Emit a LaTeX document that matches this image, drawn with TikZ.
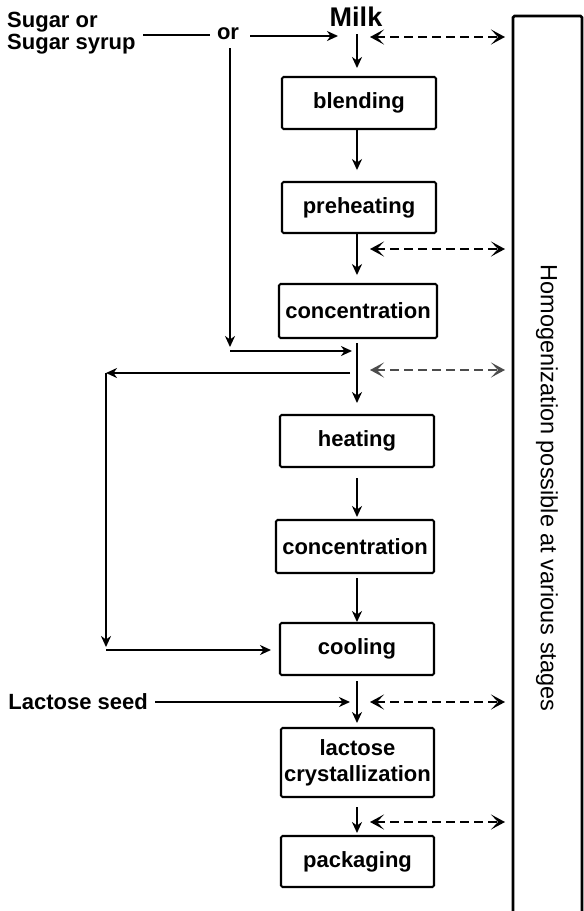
\documentclass[tikz,border=0pt]{standalone}
\usepackage{fontspec}
\setmainfont{Liberation Sans}
\usetikzlibrary{arrows.meta}
\begin{document}
\begin{tikzpicture}[x=1pt,y=-1pt,
  proc/.style={draw, line width=2.1pt, rounded corners=1.5pt, minimum width=154pt, minimum height=52pt, inner sep=0pt, font=\fontsize{22}{26}\selectfont\bfseries, align=center},
  flow/.style={line width=2.5pt, -{Stealth[length=11pt,width=10pt,inset=3.5pt]}},
  plain/.style={line width=2.5pt},
  homog/.style={line width=2.4pt, dash pattern=on 9pt off 5pt, {Stealth[length=14pt,width=15pt,inset=7pt]}-{Stealth[length=14pt,width=15pt,inset=7pt]}},
  lbl/.style={font=\fontsize{22}{22}\selectfont\bfseries, inner sep=0pt}]
\useasboundingbox (0,0) rectangle (584,911);

% side box
\draw[line width=2.6pt, rounded corners=1.5pt] (513,16) rectangle (582,940);
\node[font=\fontsize{23.5}{24}\selectfont, rotate=-90, inner sep=0pt] (homtext) at (547,488) {Homogenization possible at various stages};

% process boxes
\node[proc] (blend) at (359,103) {blending};
\node[proc, minimum height=51pt] (preh) at (359,207.5) {preheating};
\node[proc, minimum width=158pt, minimum height=54pt] (conc1) at (358,311) {concentration};
\node[proc] (heat) at (357,441) {heating};
\node[proc, minimum width=158pt, minimum height=53pt] (conc2) at (355,546.5) {concentration};
\node[proc] (cool) at (357,649) {cooling};
\node[proc, minimum width=153pt, minimum height=69pt] (lact) at (357.5,762.5) {lactose\\crystallization};
\node[proc, minimum width=153pt, minimum height=51pt] (pack) at (357.5,861.5) {packaging};

% inputs
\node[font=\fontsize{27}{28}\selectfont\bfseries, inner sep=0pt] (milk) at (356,17) {Milk};
\node[lbl, align=left, anchor=west] (sugar) at (7,33) {Sugar or\\Sugar syrup};
\node[lbl] (or) at (228,34) {or};
\node[lbl, anchor=east] (seed) at (148,702) {Lactose seed};

% coordinates
\coordinate (sgstart) at (143,35);
\coordinate (sgend) at (210,35);
\coordinate (orstart) at (250,36);
\coordinate (ortip) at (338,36);
\coordinate (mtop) at (357,34);
\coordinate (mtip) at (357,68);
\coordinate (oldown) at (230,48);
\coordinate (oltip) at (230,347);
\coordinate (olcorner) at (230,351);
\coordinate (oljoin) at (352,351);
\coordinate (lbstart) at (350,373);
\coordinate (lbcorner) at (106,373);
\coordinate (lbtip) at (106,647);
\coordinate (lbcorner2) at (106,650);
\coordinate (lbend) at (271,650);
\coordinate (seedstart) at (155,702);
\coordinate (seedtip) at (350,702);

% sugar line
\draw[plain] (sgstart) -- (sgend);
\draw[flow] (orstart) -- (ortip);
\draw[flow] (oldown) -- (oltip);
\draw[flow] (olcorner) -- (oljoin);

% main flow
\draw[flow] (mtop) -- (mtip);
\draw[flow] (blend.south -| mtop) -- ++(0,40);
\draw[flow] (preh.south -| mtop) -- ++(0,41);
\draw[flow] (conc1.south -| mtop) ++(0,4) -- (357,403);
\draw[flow] (heat.south -| mtop) ++(0,10) -- (357,517);
\draw[flow] (conc2.south -| mtop) ++(0,4) -- (357,622);
\draw[flow] (cool.south -| mtop) ++(0,5) -- (357,723);
\draw[flow] (lact.south -| mtop) ++(0,9) -- (357,833);

% left branch
\draw[flow] (lbstart) -- (lbcorner);
\draw[flow] (lbcorner) -- (lbtip);
\draw[flow] (lbcorner2) -- (lbend);

% lactose seed
\draw[flow] (seedstart) -- (seedtip);

% homogenization arrows
\draw[homog] (370,37) -- (505,37);
\draw[homog] (370,249) -- (505,249);
\draw[homog, line width=1.6pt, draw=black!70] (370,370) -- (505,370);
\draw[homog] (370,702) -- (505,702);
\draw[homog] (370,822) -- (505,822);
\end{tikzpicture}
\end{document}
